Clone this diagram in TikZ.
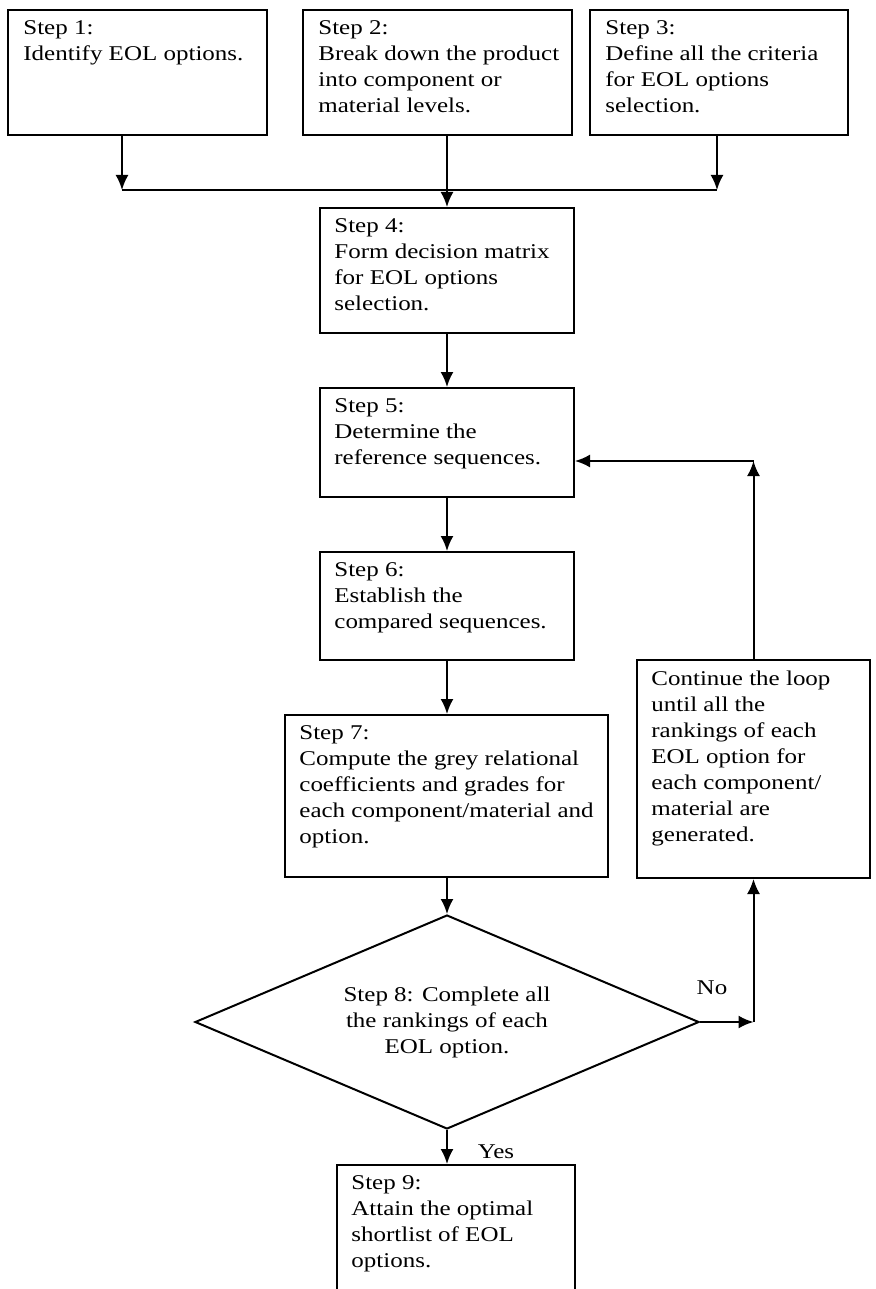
\documentclass[tikz,border=0pt]{standalone}
\usepackage{fontspec}
\setmainfont{Liberation Serif}[FakeStretch=1.19]
\usetikzlibrary{positioning,arrows.meta,shapes.geometric}

\tikzset{
  stepbox/.style={draw=black, line width=1pt, fill=white, inner sep=0pt},
  steptext/.style={anchor=north west, inner sep=0pt, align=left, font=\fontsize{10.5}{13}\selectfont},
  flow/.style={draw=black, line width=1pt, -{Latex[length=7.5pt,width=6.5pt]}},
  plain/.style={draw=black, line width=1pt},
}

\begin{document}
\begin{tikzpicture}[x=0.5pt,y=-0.5pt]
\useasboundingbox (0,0) rectangle (876,1289);

% steps 1-3
\node[stepbox, minimum width=129.5pt, minimum height=62.5pt] (s1) at (137.5,72.5) {};
\node[stepbox, minimum width=134.5pt, minimum height=62.5pt] (s2) at (437.5,72.5) {};
\node[stepbox, minimum width=129pt, minimum height=62.5pt] (s3) at (719,72.5) {};
\node[steptext] (s1t) at ([shift={(8pt,-5.5pt)}]s1.north west) {Step 1:\\Identify EOL options.};
\node[steptext] (s2t) at ([shift={(8pt,-5.5pt)}]s2.north west) {Step 2:\\Break down the product\\into component or\\material levels.};
\node[steptext] (s3t) at ([shift={(8pt,-5.5pt)}]s3.north west) {Step 3:\\Define all the criteria\\for EOL options\\selection.};

% steps 4-7
\node[stepbox, minimum width=127pt, minimum height=62.5pt] (s4) at (447,270.5) {};
\node[stepbox, minimum width=127pt, minimum height=54.5pt] (s5) at (447,442.5) {};
\node[stepbox, minimum width=127pt, minimum height=54pt] (s6) at (447,606) {};
\node[stepbox, minimum width=161.5pt, minimum height=81pt] (s7) at (446.5,796) {};
\node[steptext] (s4t) at ([shift={(7.5pt,-5.5pt)}]s4.north west) {Step 4:\\Form decision matrix\\for EOL options\\selection.};
\node[steptext] (s5t) at ([shift={(7.5pt,-5.5pt)}]s5.north west) {Step 5:\\Determine the\\reference sequences.};
\node[steptext] (s6t) at ([shift={(7.5pt,-5.5pt)}]s6.north west) {Step 6:\\Establish the\\compared sequences.};
\node[steptext] (s7t) at ([shift={(7.5pt,-5.5pt)}]s7.north west) {Step 7:\\Compute the grey relational\\coefficients and grades for\\each component/material and\\option.};

% decision and loop
\node[stepbox, diamond, minimum width=252pt, minimum height=107pt] (s8) at (447,1022) {};
\node[steptext, anchor=center, align=center] (s8t) at (s8) {Step 8: Complete all\\the rankings of each\\EOL option.};
\node[stepbox, minimum width=116.5pt, minimum height=109pt] (loop) at (753.5,769) {};
\node[steptext] (loopt) at ([shift={(7.5pt,-6pt)}]loop.north west) {Continue the loop\\until all the\\rankings of each\\EOL option for\\each component/\\material are\\generated.};

% step 9
\node[stepbox, minimum width=119pt, minimum height=67.5pt] (s9) at (456,1232.5) {};
\node[steptext] (s9t) at ([shift={(7.5pt,-5.5pt)}]s9.north west) {Step 9:\\Attain the optimal\\shortlist of EOL\\options.};

% connectors
\coordinate (m1) at (122,190);
\coordinate (m2) at (447,190);
\coordinate (m3) at (717,190);
\draw[plain] (m1) -- (m3);
\draw[flow] (s1.south -| m1) -- (m1);
\draw[flow] (s3.south -| m3) -- (m3);
\draw[flow] (s2.south -| m2) -- (s4.north);
\draw[flow] (s4.south) -- (s5.north);
\draw[flow] (s5.south) -- (s6.north);
\draw[flow] (s6.south) -- (s6.south |- s7.north);
\draw[flow] (s6.south |- s7.south) -- (s8.north);
\draw[flow] (s8.south) -- (s8.south |- s9.north);

\coordinate (c1) at (753.5,1022);
\coordinate (c2) at (753.5,461);
\draw[flow] (s8.east) -- (c1);
\draw[flow] (c1) -- (loop.south);
\draw[flow] (loop.north) -- (c2);
\draw[flow] (c2) -- (s5.east |- c2);

\node[steptext, anchor=center] (no) at (712,988) {No};
\node[steptext, anchor=center] (yes) at (496,1152) {Yes};
\end{tikzpicture}
\end{document}
